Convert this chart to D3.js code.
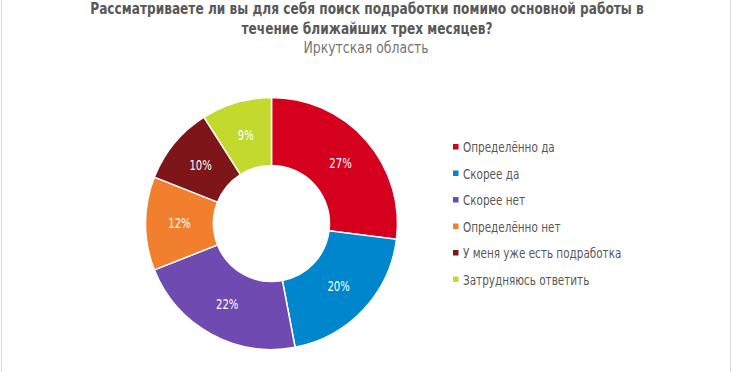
<!DOCTYPE html>
<html lang="ru">
<head>
<meta charset="UTF-8">
<title>Подработка</title>
<script src="https://d3js.org/d3.v7.min.js"></script>
<style>
    body { margin: 0; background: #fff; }
    svg { display: block; }
    text { font-family: 'DejaVu Sans Condensed', 'DejaVu Sans', sans-serif; }
</style>
</head>
<body>
<script>
    var categories = ["Определённо да", "Скорее да", "Скорее нет", "Определённо нет", "У меня уже есть подработка", "Затрудняюсь ответить"];
    var values = [27, 20, 22, 12, 10, 9];
    var colors = ["#d4001d", "#0086cc", "#6f4ab0", "#f27f2e", "#7e1518", "#c4d92e"];
    var titleLines = ["Рассматриваете ли вы для себя поиск подработки помимо основной работы в", "течение ближайших  трех месяцев?"];
    var subtitle = "Иркутская область";

    var width = 732, height = 372;
    var cx = 271.5, cy = 223.5, rOuter = 126, rInner = 58;
    var squeeze = 0.8; // fake a condensed face

    var svg = d3.select("body").append("svg")
        .attr("width", width)
        .attr("height", height);

    // light frame on the sides
    svg.append("rect")
        .attr("x", 1.5).attr("y", -5)
        .attr("width", width - 3).attr("height", height + 10)
        .attr("fill", "none")
        .attr("stroke", "#d9d9d9")
        .attr("stroke-width", 1);

    function place(x, y, k) {
        return "translate(" + x + "," + y + ") scale(" + (k || squeeze) + ",1)";
    }

    svg.selectAll(".title")
        .data(titleLines)
        .enter().append("text")
        .attr("class", "title")
        .attr("transform", function (d, i) { return place(367, 14 + i * 19.5, 0.82); })
        .attr("text-anchor", "middle")
        .style("font-weight", "bold")
        .style("font-size", "16.5px")
        .style("fill", "#595959")
        .text(function (d) { return d; });

    svg.append("text")
        .attr("transform", place(366, 53, 0.84))
        .attr("text-anchor", "middle")
        .style("font-size", "16.5px")
        .style("fill", "#757575")
        .text(subtitle);

    var color = d3.scaleOrdinal().domain(categories).range(colors);

    var pie = d3.pie().sort(null).value(function (d) { return d.value; });
    var arcs = pie(categories.map(function (c, i) { return { name: c, value: values[i] }; }));

    var arc = d3.arc().innerRadius(rInner).outerRadius(rOuter);
    var labelArc = d3.arc().innerRadius(92).outerRadius(92);

    var g = svg.append("g").attr("transform", "translate(" + cx + "," + cy + ")");

    g.selectAll(".slice")
        .data(arcs)
        .enter().append("path")
        .attr("class", "slice")
        .attr("d", arc)
        .attr("fill", function (d) { return color(d.data.name); })
        .attr("stroke", "#fff")
        .attr("stroke-width", 1.5);

    g.selectAll(".lbl")
        .data(arcs)
        .enter().append("text")
        .attr("class", "lbl")
        .attr("transform", function (d) {
            var c = labelArc.centroid(d);
            return place(c[0], c[1]);
        })
        .attr("dy", "0.35em")
        .attr("text-anchor", "middle")
        .style("font-size", "14px")
        .style("fill", "#fff")
        .text(function (d) { return d.data.value + "%"; });

    var legend = svg.append("g").attr("transform", "translate(453,147)");
    var row = d3.scaleBand().domain(categories).range([0, 159]);

    var item = legend.selectAll(".item")
        .data(categories)
        .enter().append("g")
        .attr("class", "item")
        .attr("transform", function (d) { return "translate(0," + row(d) + ")"; });

    item.append("rect")
        .attr("x", 0).attr("y", -3)
        .attr("width", 5.5).attr("height", 5.5)
        .attr("fill", function (d) { return color(d); });

    item.append("text")
        .attr("transform", place(10, 0))
        .attr("dy", "0.35em")
        .style("font-size", "14.5px")
        .style("fill", "#595959")
        .text(function (d) { return d; });
</script>
</body>
</html>
